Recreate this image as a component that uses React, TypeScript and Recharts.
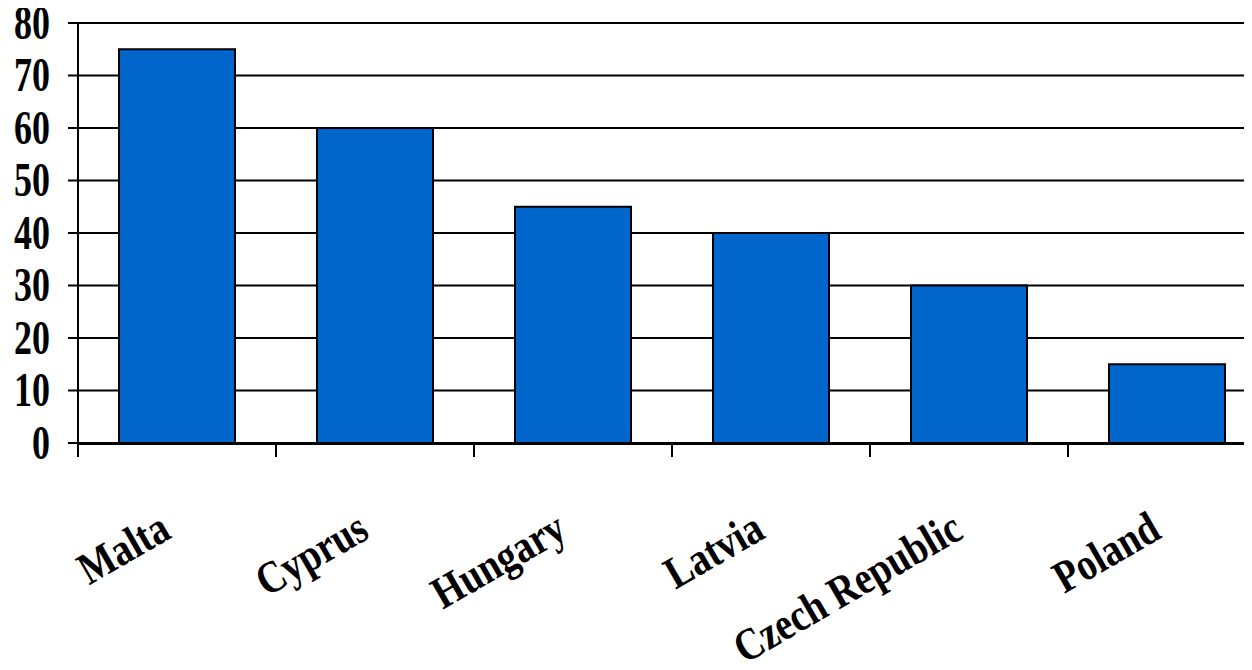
import React from "react";
import { BarChart, Bar, XAxis, YAxis, CartesianGrid } from "recharts";

const categories = ["Malta", "Cyprus", "Hungary", "Latvia", "Czech Republic", "Poland"];
const values = [75, 60, 45, 40, 30, 15];
const yTicks = [0, 10, 20, 30, 40, 50, 60, 70, 80];
const boundaryTicks = [0, 1, 2, 3, 4, 5, 6];

const data = categories.map((name, i) => ({ name, value: values[i], idx: i + 0.5 }));

const FONT = '"Liberation Serif", "Times New Roman", serif';

const YTick = (props: any) => {
  const { x, y, payload } = props;
  return (
    <g transform={`translate(${x},${y}) scale(1,1.32)`}>
      <text x={0} y={12} textAnchor="end" fontFamily={FONT} fontWeight="bold" fontSize={36} fill="#000">
        {payload.value}
      </text>
    </g>
  );
};

const XTick = (props: any) => {
  const { x, y, payload } = props;
  return (
    <g transform={`translate(${x - 4},${y + 93}) rotate(-30) scale(1,1.2)`}>
      <text x={0} y={0} textAnchor="end" fontFamily={FONT} fontWeight="bold" fontSize={38} fill="#000">
        {payload.value}
      </text>
    </g>
  );
};

export default function App() {
  return (
    <div style={{ margin: "-8px 0 0 -8px", width: 1270, height: 670, overflow: "hidden", background: "#fff" }}>
      <BarChart
        width={1270}
        height={670}
        data={data}
        margin={{ top: 23, right: 4, bottom: 0, left: 0 }}
        barSize={116}
      >
        <CartesianGrid xAxisId="b" vertical={false} stroke="#000" strokeWidth={2} />
        <XAxis
          xAxisId="a"
          type="number"
          dataKey="idx"
          domain={[0, 6]}
          ticks={boundaryTicks}
          allowDataOverflow
          height={1}
          axisLine={false}
          tickLine={{ stroke: "#000", strokeWidth: 2 }}
          tickSize={14}
          tickFormatter={() => ""}
        />
        <XAxis
          xAxisId="b"
          dataKey="name"
          height={226}
          interval={0}
          axisLine={{ stroke: "#000", strokeWidth: 2 }}
          tickLine={false}
          tickSize={0}
          tickMargin={0}
          tick={<XTick />}
        />
        <YAxis
          domain={[0, 80]}
          ticks={yTicks}
          width={78}
          interval={0}
          axisLine={{ stroke: "#000", strokeWidth: 2 }}
          tickLine={{ stroke: "#000", strokeWidth: 2 }}
          tickSize={10}
          tickMargin={18}
          tick={<YTick />}
        />
        <Bar xAxisId="b" dataKey="value" fill="#0066CC" stroke="#000" strokeWidth={2} isAnimationActive={false} />
      </BarChart>
    </div>
  );
}
